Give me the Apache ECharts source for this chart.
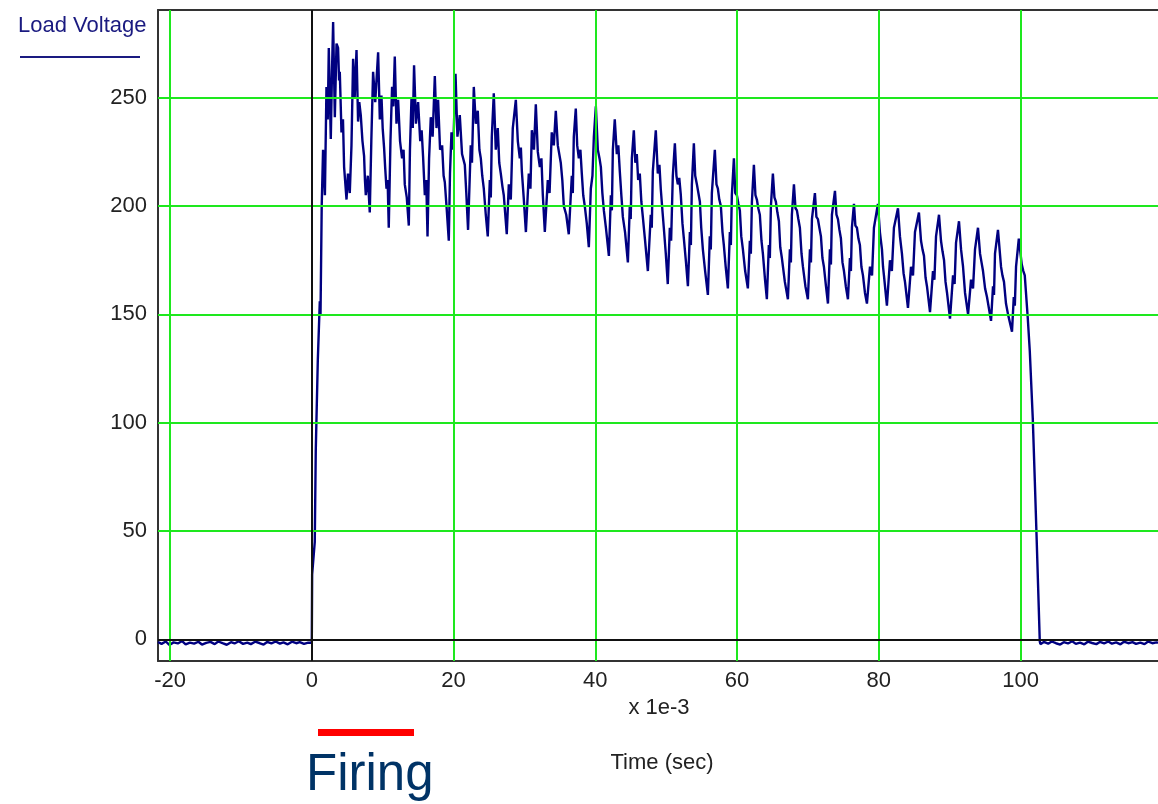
<!DOCTYPE html>
<html>
<head>
<meta charset="utf-8">
<script src="https://cdn.jsdelivr.net/npm/echarts@6/dist/echarts.min.js"></script>
<style>
  html, body { margin: 0; padding: 0; background: #fff; }
  #MainContent { width: 1158px; height: 804px; }
</style>
</head>
<body>
<div id="MainContent"></div>
<script>
// tick labels and grid positions
var xTicks = [-20, 0, 20, 40, 60, 80, 100];
var yTicks = [0, 50, 100, 150, 200, 250];
var xGreen = [-20, 20, 40, 60, 80, 100];
var yGreen = [50, 100, 150, 200, 250];

// [time ms, volts]
var baselineBefore = [
    [-21.7, -1.2], [-21.2, -2.1], [-20.6, -1.0], [-20.1, -2.6], [-19.5, -1.4], [-18.9, -1.9],
    [-18.3, -0.8], [-17.8, -2.3], [-17.2, -1.5], [-16.6, -2.0], [-16.0, -1.1], [-15.5, -2.4],
    [-14.9, -1.6], [-14.3, -1.2], [-13.7, -2.2], [-13.2, -1.0], [-12.6, -1.8], [-12.0, -2.5],
    [-11.4, -1.3], [-10.9, -1.9], [-10.3, -0.9], [-9.7, -2.1], [-9.1, -1.5], [-8.6, -2.2],
    [-8.0, -1.1], [-7.4, -1.7], [-6.8, -2.4], [-6.3, -1.2], [-5.7, -1.9], [-5.1, -1.0],
    [-4.5, -2.0], [-4.0, -1.4], [-3.4, -2.3], [-2.8, -1.1], [-2.2, -1.8], [-1.7, -1.3],
    [-1.1, -2.1], [-0.5, -1.5], [0.0, -1.6]
];

var riseEdge = [
    [0.05, 30], [0.42, 45], [0.56, 87], [0.85, 129], [1.13, 156], [1.23, 150], [1.40, 200],
    [1.59, 226], [1.85, 205], [2.07, 255], [2.25, 240], [2.40, 273], [2.68, 231], [2.85, 262],
    [3.01, 285], [3.25, 241], [3.49, 275], [3.71, 273], [3.85, 258], [3.95, 262], [4.19, 234],
    [4.40, 240], [4.56, 218], [4.90, 203]
];

var ripple = [
    [5.10, 215], [5.36, 206], [5.60, 228], [5.83, 268], [6.05, 250], [6.31, 272], [6.53, 239],
    [6.70, 248], [6.91, 242], [7.15, 230], [7.38, 223], [7.50, 212], [7.62, 205], [7.90, 214],
    [8.18, 197], [8.40, 230], [8.65, 262], [8.95, 248], [9.36, 271], [9.60, 240], [9.83, 251],
    [10.00, 236], [10.20, 227], [10.35, 218], [10.54, 208], [10.70, 212], [10.86, 190], [11.10, 230],
    [11.33, 255], [11.50, 246], [11.71, 269], [11.95, 238], [12.18, 249], [12.45, 230], [12.74, 222],
    [12.95, 226], [13.12, 210], [13.40, 204], [13.69, 191], [13.85, 226], [14.07, 250], [14.25, 236],
    [14.43, 265], [14.70, 238], [15.00, 248], [15.30, 230], [15.50, 235], [15.70, 223], [15.95, 205],
    [16.15, 212], [16.33, 186], [16.55, 222], [16.79, 241], [17.05, 232], [17.36, 260], [17.60, 236],
    [17.82, 249], [18.10, 226], [18.39, 228], [18.60, 214], [18.77, 211], [19.05, 198], [19.33, 184],
    [19.50, 215], [19.71, 234], [19.95, 226], [20.28, 261], [20.55, 232], [20.88, 242], [21.20, 224],
    [21.59, 219], [21.80, 206], [22.05, 189],
    [22.43, 228], [22.60, 220], [22.86, 255], [23.14, 238], [23.42, 244], [23.65, 226], [23.85, 222],
    [24.05, 214], [24.27, 208], [24.55, 196], [24.83, 186],
    [25.12, 212], [25.26, 204], [25.40, 232], [25.68, 252], [25.96, 226], [26.24, 236], [26.45, 220],
    [26.67, 215], [26.90, 209], [27.09, 205], [27.30, 196], [27.51, 187],
    [27.80, 210], [28.08, 203], [28.36, 236], [28.79, 249], [29.07, 230], [29.35, 222], [29.50, 227],
    [29.64, 216], [29.92, 203], [30.21, 188],
    [30.62, 215], [30.85, 208], [31.05, 235], [31.35, 226], [31.61, 247], [31.89, 225], [32.18, 218],
    [32.40, 222], [32.60, 205], [32.88, 188],
    [33.30, 212], [33.55, 206], [33.86, 234], [34.15, 228], [34.43, 244], [34.71, 228], [35.13, 220],
    [35.35, 212], [35.56, 200], [35.90, 196], [36.26, 187],
    [36.69, 214], [36.83, 206], [36.97, 232], [37.25, 245], [37.45, 228], [37.68, 222], [37.90, 226],
    [38.10, 215], [38.30, 205], [38.52, 200], [38.80, 192], [39.09, 181],
    [39.37, 208], [39.60, 214], [39.80, 232], [40.08, 246], [40.36, 226], [40.60, 222], [40.79, 218],
    [41.00, 206], [41.21, 198], [41.50, 190], [41.92, 177],
    [42.20, 205], [42.34, 198], [42.48, 226], [42.75, 240], [43.04, 224], [43.25, 228], [43.46, 216],
    [43.70, 204], [43.89, 195], [44.20, 188], [44.60, 174],
    [44.87, 200], [45.00, 194], [45.16, 222], [45.44, 235], [45.65, 220], [45.86, 224], [46.05, 212],
    [46.28, 215], [46.50, 202], [46.71, 195], [47.00, 185], [47.42, 170],
    [47.83, 196], [47.97, 190], [48.12, 216], [48.54, 235], [48.82, 215], [49.05, 219], [49.24, 208],
    [49.45, 199], [49.67, 190], [49.95, 178], [50.23, 164],
    [50.52, 190], [50.70, 184], [50.94, 214], [51.23, 229], [51.45, 214], [51.65, 210], [51.85, 213],
    [52.07, 205], [52.30, 192], [52.50, 185], [52.80, 174], [53.07, 163],
    [53.35, 188], [53.49, 182], [53.63, 210], [53.91, 229], [54.10, 214], [54.34, 210], [54.55, 206],
    [54.76, 202], [54.95, 190], [55.18, 180], [55.50, 170], [55.89, 159],
    [56.16, 186], [56.30, 180], [56.45, 206], [56.87, 226], [57.10, 210], [57.30, 208], [57.50, 203],
    [57.72, 200], [57.95, 188], [58.14, 182], [58.40, 172], [58.71, 162],
    [58.99, 188], [59.13, 182], [59.27, 205], [59.56, 222], [59.75, 206], [59.98, 205], [60.20, 201],
    [60.40, 198], [60.60, 186], [60.83, 180], [61.15, 170], [61.53, 162],
    [61.81, 184], [61.95, 178], [62.10, 202], [62.38, 219], [62.60, 205], [62.80, 203], [63.00, 199],
    [63.22, 196], [63.45, 184], [63.65, 178], [63.95, 166], [64.21, 157],
    [64.49, 182], [64.63, 176], [64.78, 200], [65.06, 215], [65.28, 204], [65.48, 202], [65.70, 197],
    [65.91, 193], [66.10, 181], [66.33, 176], [66.75, 165], [67.18, 157],
    [67.46, 180], [67.60, 174], [67.74, 196], [68.03, 210], [68.25, 199], [68.45, 198], [68.65, 194],
    [68.87, 190], [69.10, 178], [69.30, 172], [69.65, 163], [70.00, 157],
    [70.29, 180], [70.43, 174], [70.57, 194], [70.99, 206], [71.20, 195], [71.41, 194], [71.62, 190],
    [71.84, 186], [72.05, 176], [72.26, 172], [72.55, 163], [72.83, 155],
    [73.11, 180], [73.25, 173], [73.39, 196], [73.82, 207], [74.03, 196], [74.24, 194], [74.45, 189],
    [74.66, 185], [74.88, 174], [75.09, 170], [75.35, 163], [75.65, 157],
    [75.93, 176], [76.07, 170], [76.21, 190], [76.50, 201], [76.70, 191], [76.92, 190], [77.13, 185],
    [77.34, 182], [77.55, 172], [77.77, 168], [78.05, 160], [78.33, 155],
    [78.76, 172], [79.05, 168], [79.32, 190], [79.88, 201], [80.16, 188], [80.30, 184], [80.45, 180],
    [80.60, 172], [80.73, 168], [81.15, 154],
    [81.58, 175], [81.85, 170], [82.14, 190], [82.71, 199], [82.99, 186], [83.13, 182], [83.27, 178],
    [83.50, 169], [83.70, 165], [84.12, 153],
    [84.55, 172], [84.83, 168], [85.11, 188], [85.67, 197], [85.96, 184], [86.17, 180], [86.38, 177],
    [86.60, 167], [86.80, 163], [87.23, 151],
    [87.65, 170], [87.85, 166], [88.08, 186], [88.50, 196], [88.78, 184], [89.00, 179], [89.21, 175],
    [89.42, 165], [89.63, 160], [90.05, 148],
    [90.48, 168], [90.70, 164], [90.90, 183], [91.32, 193], [91.61, 180], [91.89, 172], [92.03, 166],
    [92.17, 160], [92.60, 150],
    [93.02, 166], [93.30, 162], [93.58, 180], [94.00, 190], [94.29, 178], [94.50, 174], [94.71, 170],
    [95.00, 162], [95.27, 158], [95.84, 147],
    [96.12, 163], [96.26, 159], [96.40, 178], [96.82, 189], [97.25, 172], [97.45, 168], [97.67, 165],
    [97.95, 155], [98.24, 150], [98.80, 142],
    [99.05, 158], [99.20, 154], [99.37, 172], [99.76, 185], [100.18, 173], [100.40, 170], [100.60, 168]
];

var fallEdge = [
    [101.03, 148], [101.31, 133], [101.73, 102], [102.02, 73], [102.30, 44], [102.58, 14], [102.72, -1]
];

var baselineAfter = [
    [102.8, -2.2], [103.3, -1.2], [103.9, -2.0], [104.4, -1.0], [105.0, -1.8], [105.6, -2.4],
    [106.1, -1.3], [106.7, -1.9], [107.3, -0.9], [107.8, -2.1], [108.4, -1.5], [109.0, -2.3],
    [109.5, -1.1], [110.1, -1.7], [110.7, -2.2], [111.2, -1.2], [111.8, -1.9], [112.4, -1.0],
    [112.9, -2.0], [113.5, -1.4], [114.1, -2.3], [114.6, -1.1], [115.2, -1.8], [115.8, -1.3],
    [116.3, -2.1], [116.9, -1.5], [117.5, -2.2], [118.0, -1.0], [118.6, -1.8], [119.2, -1.4], [119.4, -1.6]
];

var trace = [].concat(baselineBefore, riseEdge, ripple, fallEdge, baselineAfter);

var smallFont = '"Liberation Sans", Arial, sans-serif';
var green = '#1ee81e';

var gridLines = [];
xGreen.forEach(function (v) {
    gridLines.push({ xAxis: v, lineStyle: { color: green, width: 2, type: 'solid' } });
});
yGreen.forEach(function (v) {
    gridLines.push({ yAxis: v, lineStyle: { color: green, width: 2, type: 'solid' } });
});
gridLines.push({ xAxis: 0, lineStyle: { color: '#111', width: 2, type: 'solid' } });
gridLines.push({ yAxis: 0, lineStyle: { color: '#111', width: 2, type: 'solid' } });

var chart = echarts.init(document.getElementById('MainContent'));

var option = {
    animation: false,
    backgroundColor: '#fff',
    grid: { left: 158, right: 0, top: 10, bottom: 143 },
    xAxis: [{
        type: 'value',
        min: -21.7,
        max: 119.4,
        axisLine: { show: true, onZero: false, lineStyle: { color: '#333', width: 2 } },
        axisTick: { show: false },
        splitLine: { show: false },
        axisLabel: {
            customValues: xTicks,
            margin: 9,
            fontFamily: smallFont,
            fontSize: 22,
            color: '#222'
        }
    }, {
        type: 'value',
        position: 'top',
        min: -21.7,
        max: 119.4,
        axisLine: { show: true, onZero: false, lineStyle: { color: '#333', width: 2 } },
        axisTick: { show: false },
        splitLine: { show: false },
        axisLabel: { show: false }
    }],
    yAxis: {
        type: 'value',
        min: -10,
        max: 290.5,
        axisLine: { show: true, onZero: false, lineStyle: { color: '#333', width: 2 } },
        axisTick: { show: false },
        splitLine: { show: false },
        axisLabel: {
            customValues: yTicks,
            margin: 11,
            fontFamily: smallFont,
            fontSize: 22,
            color: '#222'
        }
    },
    series: [{
        type: 'line',
        data: trace,
        showSymbol: false,
        lineStyle: { color: '#000080', width: 2.4 },
        markLine: {
            silent: true,
            symbol: ['none', 'none'],
            label: { show: false },
            animation: false,
            data: gridLines
        }
    }],
    graphic: [
        { type: 'text', left: 18, top: 15, style: { text: 'Load Voltage', font: '22px ' + smallFont, fill: '#1a1a80' } },
        { type: 'line', shape: { x1: 20, y1: 57, x2: 140, y2: 57 }, style: { stroke: '#1a1a80', lineWidth: 2 } },
        { type: 'text', x: 659, y: 708, style: { text: 'x 1e-3', font: '22px ' + smallFont, fill: '#222', align: 'center', verticalAlign: 'middle' } },
        { type: 'text', x: 662, y: 763, style: { text: 'Time (sec)', font: '22px ' + smallFont, fill: '#222', align: 'center', verticalAlign: 'middle' } },
        { type: 'rect', shape: { x: 318, y: 729, width: 96, height: 7 }, style: { fill: '#ff0000' } },
        { type: 'text', x: 306, y: 776, style: { text: 'Firing', font: '51px "Liberation Sans", Arial, sans-serif', fill: '#003366', align: 'left', verticalAlign: 'middle' } }
    ]
};

chart.setOption(option);
</script>
</body>
</html>
